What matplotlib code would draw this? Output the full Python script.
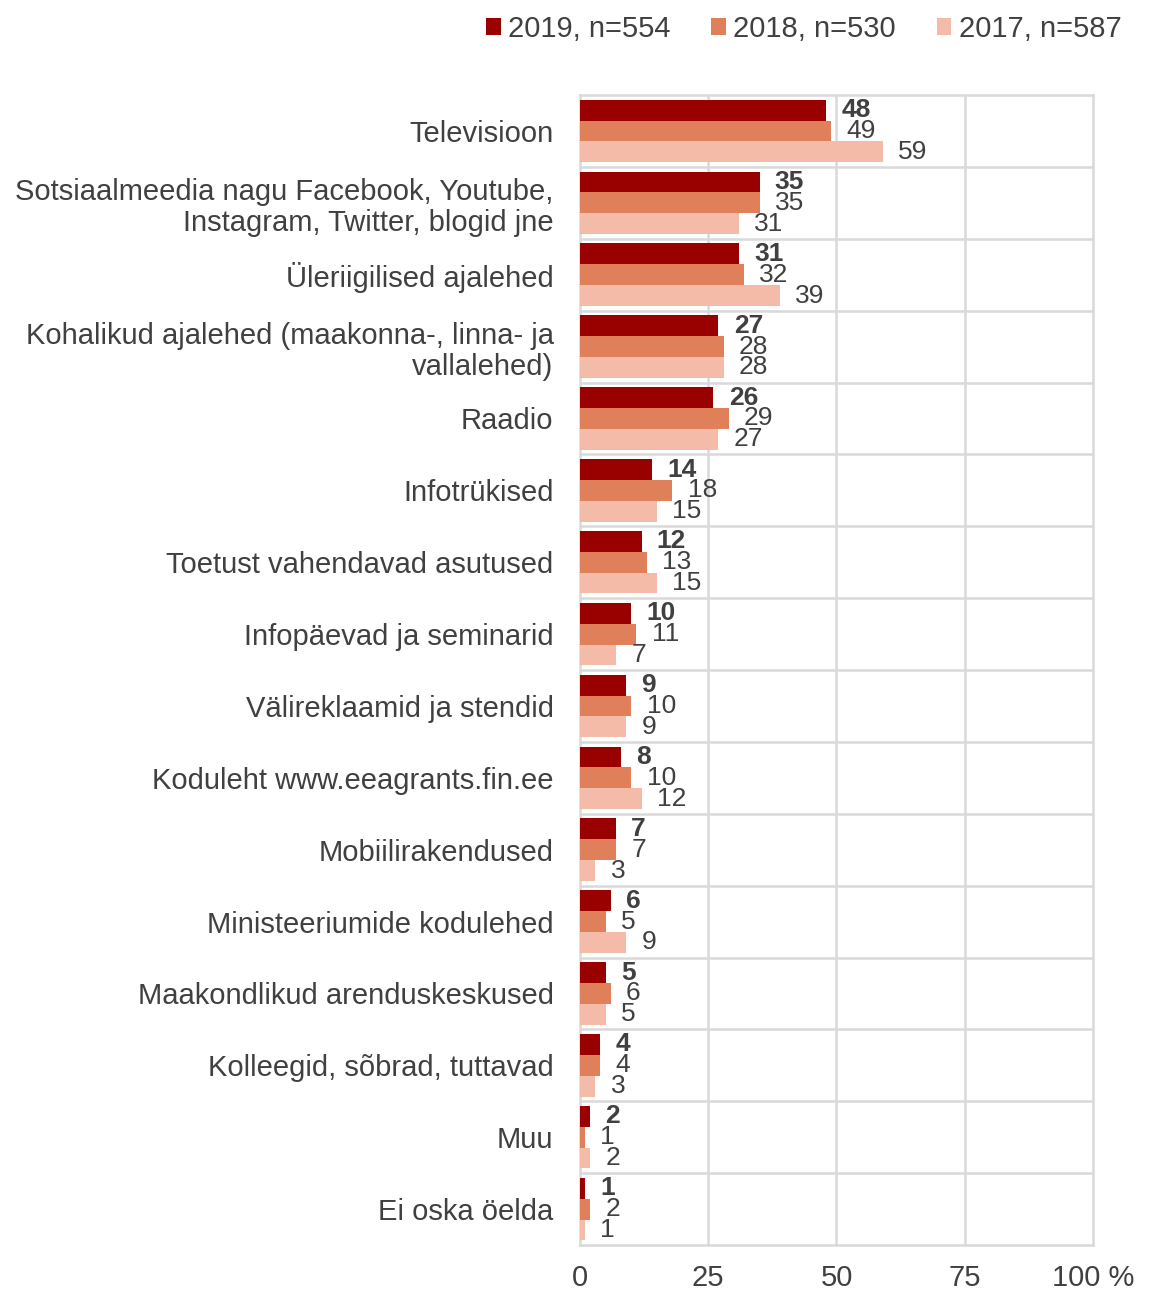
import numpy as np
import matplotlib.pyplot as plt

plt.rcParams['font.family'] = ['Liberation Sans', 'DejaVu Sans']

# data
categories = [
    "Televisioon",
    "Sotsiaalmeedia nagu Facebook, Youtube,\nInstagram, Twitter, blogid jne",
    "Üleriigilised ajalehed",
    "Kohalikud ajalehed (maakonna-, linna- ja\nvallalehed)",
    "Raadio",
    "Infotrükised",
    "Toetust vahendavad asutused",
    "Infopäevad ja seminarid",
    "Välireklaamid ja stendid",
    "Koduleht www.eeagrants.fin.ee",
    "Mobiilirakendused",
    "Ministeeriumide kodulehed",
    "Maakondlikud arenduskeskused",
    "Kolleegid, sõbrad, tuttavad",
    "Muu",
    "Ei oska öelda",
]
v2019 = [48, 35, 31, 27, 26, 14, 12, 10, 9, 8, 7, 6, 5, 4, 2, 1]
v2018 = [49, 35, 32, 28, 29, 18, 13, 11, 10, 10, 7, 5, 6, 4, 1, 2]
v2017 = [59, 31, 39, 28, 27, 15, 15, 7, 9, 12, 3, 9, 5, 3, 2, 1]
series = ["2019, n=554", "2018, n=530", "2017, n=587"]
colors = ["#990000", "#E0805A", "#F4BBA9"]

text_col = "#404040"
grid_col = "#D9D9D9"

fig = plt.figure(figsize=(11.7, 12.93), dpi=100)
ax = fig.add_axes([0.4957, 0.0371, 0.4385, 0.8894])

y = np.arange(len(categories))
h = 0.29
for i, (vals, lab, col) in enumerate(zip([v2019, v2018, v2017], series, colors)):
    pos = y + (i - 1) * h
    ax.barh(pos, vals, height=h, color=col, label=lab, zorder=3)
    for p, v in zip(pos, vals):
        ax.annotate(str(v), (v, p), xytext=(11, 0), textcoords="offset points",
                    ha="left", va="center", fontsize=19, color=text_col,
                    fontweight="bold" if i == 0 else "normal", zorder=4)

ax.set_xlim(0, 100)
ax.set_ylim(len(categories) - 0.5, -0.5)
ax.set_xticks([0, 25, 50, 75, 100])
ax.set_xticklabels(["0", "25", "50", "75", "100 %"])
ax.set_yticks(y)
ax.set_yticklabels(categories, linespacing=1.15)
ax.tick_params(axis="both", length=0, labelsize=21, colors=text_col)
ax.tick_params(axis="y", pad=19)
ax.tick_params(axis="x", pad=14)

for xv in [25, 50, 75]:
    ax.axvline(xv, color=grid_col, lw=1.8, zorder=1)
for k in range(len(categories) - 1):
    ax.axhline(k + 0.5, color=grid_col, lw=1.8, zorder=1)
for s in ax.spines.values():
    s.set_color(grid_col)
    s.set_linewidth(1.8)

ax.legend(loc="lower right", bbox_to_anchor=(1.078, 1.035), ncol=3, frameon=False,
          fontsize=21, labelcolor=text_col, handlelength=0.5, handleheight=0.5,
          handletextpad=0.25, columnspacing=1.4, borderaxespad=0)

fig.savefig("out.png", dpi=100)
